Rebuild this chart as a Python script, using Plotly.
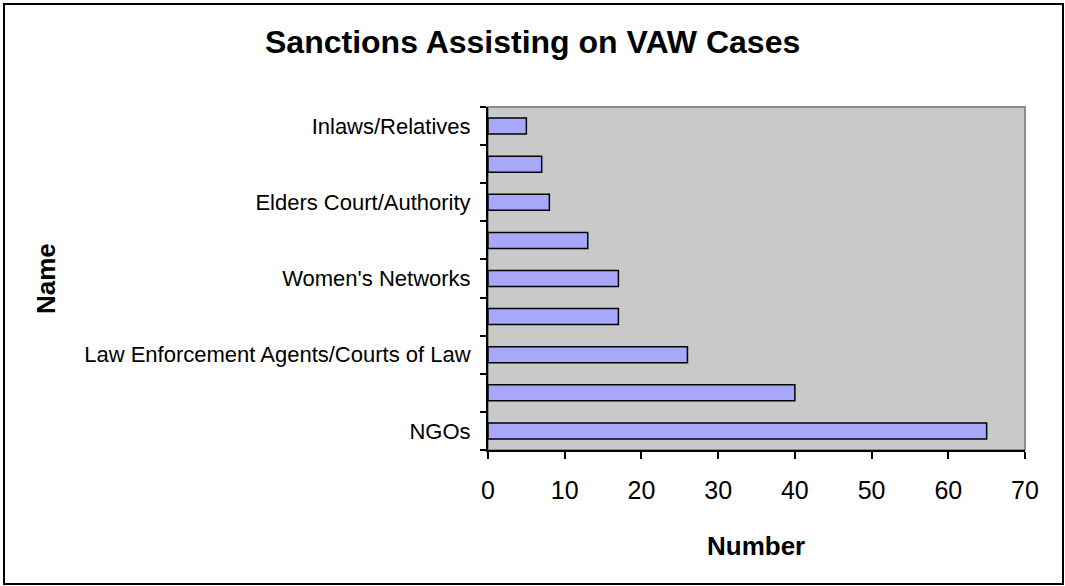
import plotly.graph_objects as go

# Categories from bottom to top; only every other one carries a visible label
labels = [
    "NGOs",
    "",
    "Law Enforcement Agents/Courts of Law",
    "",
    "Women's Networks",
    "",
    "Elders Court/Authority",
    "",
    "Inlaws/Relatives",
]
values = [65, 40, 26, 17, 17, 13, 8, 7, 5]
x_ticks = [0, 10, 20, 30, 40, 50, 60, 70]

W, H = 1065, 586
L, R, T, B = 488, 1025, 107, 450  # plot-area edges in pixels
pw, ph = R - L, B - T


def px(x):
    return (x - L) / pw


def py(y):
    return (B - y) / ph


positions = list(range(len(values)))

fig = go.Figure(
    go.Bar(
        x=values,
        y=positions,
        orientation="h",
        width=0.42,
        marker=dict(color="#A8A8FA", line=dict(color="black", width=1.5)),
        hoverinfo="x",
    )
)

FONT = "Arial, Liberation Sans, sans-serif"

fig.update_layout(
    width=W,
    height=H,
    margin=dict(l=L, r=W - R, t=T, b=H - B, pad=0),
    paper_bgcolor="white",
    plot_bgcolor="#C9C9C9",
    showlegend=False,
    font=dict(family=FONT, color="black"),
    xaxis=dict(
        range=[0, 70],
        tickmode="array",
        tickvals=x_ticks,
        ticktext=[str(v) for v in x_ticks],
        ticks="outside",
        ticklen=7,
        tickwidth=2,
        tickcolor="black",
        tickfont=dict(size=25, family=FONT, color="black"),
        ticklabelstandoff=10,
        showline=True,
        linecolor="black",
        linewidth=2,
        showgrid=False,
        zeroline=False,
        fixedrange=True,
    ),
    yaxis=dict(
        range=[-0.5, len(values) - 0.5],
        tickmode="array",
        tickvals=positions,
        ticktext=labels,
        ticks="",
        tickfont=dict(size=22, family=FONT, color="black"),
        ticklabelstandoff=11,
        minor=dict(
            tickmode="array",
            tickvals=[p - 0.5 for p in positions] + [len(values) - 0.5],
            ticks="outside",
            ticklen=6,
            tickwidth=2,
            tickcolor="black",
            showgrid=False,
        ),
        showline=True,
        linecolor="black",
        linewidth=2,
        showgrid=False,
        zeroline=False,
        fixedrange=True,
    ),
    shapes=[
        # grey border of the plot area
        dict(
            type="rect", xref="paper", yref="paper",
            x0=0, x1=1, y0=0, y1=1,
            line=dict(color="#8C8C8C", width=2),
            layer="below",
        ),
        # outer chart frame
        dict(
            type="rect", xref="paper", yref="paper",
            x0=px(4), x1=px(1063), y0=py(584), y1=py(4),
            line=dict(color="black", width=2),
        ),
    ],
    annotations=[
        dict(
            text="<b>Sanctions Assisting on VAW Cases</b>",
            xref="paper", yref="paper", x=px(532), y=py(42),
            xanchor="center", yanchor="middle", showarrow=False,
            font=dict(size=32, family=FONT, color="black"),
        ),
        dict(
            text="<b>Number</b>",
            xref="paper", yref="paper", x=px(756), y=py(546),
            xanchor="center", yanchor="middle", showarrow=False,
            font=dict(size=26, family=FONT, color="black"),
        ),
        dict(
            text="<b>Name</b>",
            xref="paper", yref="paper", x=px(46), y=py(279),
            xanchor="center", yanchor="middle", showarrow=False,
            textangle=-90,
            font=dict(size=26, family=FONT, color="black"),
        ),
    ],
)

fig.write_html("out.html")
